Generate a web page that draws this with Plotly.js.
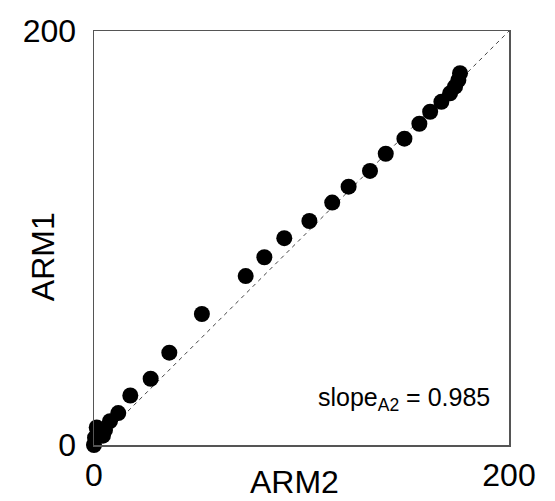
<!DOCTYPE html>
<html>
<head>
<meta charset="utf-8">
<script src="https://cdn.plot.ly/plotly-3.0.1.min.js"></script>
<style>html,body{margin:0;padding:0;background:#fff;}#chart{width:555px;height:501px;}</style>
</head>
<body>
<div id="chart"></div>
<script>
var arm2 = [0, 0.5, 1.3, 4.3, 5.3, 7.7, 11.7, 17.5, 27.3, 36.3, 52, 73.1, 82.1, 91.7, 103.8, 114.8, 122.7, 133, 140.6, 149.6, 156.8, 162, 167.4, 171.6, 174, 175.6, 176.4];
var arm1 = [0, 3.5, 8.5, 4.5, 7.2, 11.5, 15.4, 23.9, 32, 44.6, 63.3, 81.6, 90.7, 99.9, 108.2, 117.1, 124.8, 132.4, 140.7, 148, 155.2, 161, 165.8, 169.9, 173.1, 176.3, 179.6];
var refLine = [0, 200];
var tickVals = [0, 200];
var tickText = ["0", "200"];
var xTitle = "ARM2";
var yTitle = "ARM1";
var slopeLabel = "slope<sub>A2</sub> = 0.985";

var font = "Liberation Sans, Arial, sans-serif";
var data = [
  {x: refLine, y: refLine, mode: "lines", type: "scatter",
   line: {color: "#444", width: 1, dash: "4px,4px"}, hoverinfo: "skip", showlegend: false},
  {x: arm2, y: arm1, mode: "markers", type: "scatter", cliponaxis: false,
   marker: {color: "#000", size: 16}, showlegend: false}
];
var axisBase = {
  range: [0, 200], tickvals: tickVals, ticktext: tickText,
  showgrid: false, zeroline: false, showline: true, mirror: true,
  linecolor: "#555", linewidth: 1.5, ticks: "",
  tickfont: {family: font, size: 32, color: "#000"}
};
var layout = {
  width: 555, height: 501,
  margin: {l: 94, r: 46, t: 31, b: 56},
  paper_bgcolor: "#fff", plot_bgcolor: "#fff",
  font: {family: font, color: "#000"},
  xaxis: Object.assign({}, axisBase, {ticklabelstandoff: 1}),
  yaxis: Object.assign({}, axisBase, {ticklabelstandoff: 10}),
  annotations: [
    {x: 192, y: 22, xref: "x", yref: "y", xanchor: "right", yanchor: "middle",
     text: slopeLabel, showarrow: false, font: {family: font, size: 25, color: "#000"}},
    {x: 0.484, y: -0.1353, xref: "paper", yref: "paper", xanchor: "center", yanchor: "bottom",
     borderpad: 0, text: xTitle, showarrow: false, font: {family: font, size: 32, color: "#000"}},
    {x: -0.124, y: 0.455, xref: "paper", yref: "paper", xanchor: "center", yanchor: "middle",
     text: yTitle, textangle: -90, showarrow: false, font: {family: font, size: 32, color: "#000"}}
  ]
};
Plotly.newPlot("chart", data, layout, {staticPlot: true, displayModeBar: false});
</script>
</body>
</html>
